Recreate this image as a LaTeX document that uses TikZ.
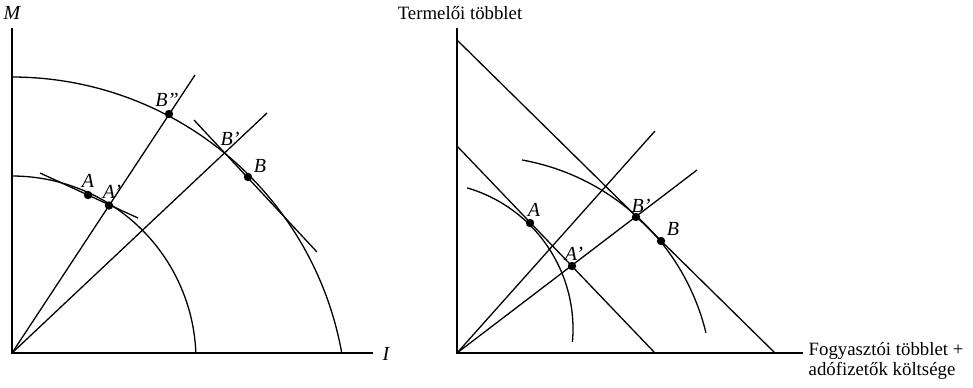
\documentclass[tikz,border=0pt]{standalone}
\usepackage{fontspec}
\setmainfont{Liberation Serif}
\begin{document}
\begin{tikzpicture}[x=0.5pt,y=-0.5pt,
  every path/.style={line width=0.65pt},
  dot/.style={circle,fill=black,inner sep=0pt,minimum size=4.2pt},
  lbl/.style={font=\fontsize{10}{10}\selectfont\itshape,inner sep=0pt},
  txt/.style={font=\fontsize{9.4}{9.4}\selectfont,inner sep=0pt}]
\useasboundingbox (0,0) rectangle (973,387);
% ---------------- left panel ----------------
\coordinate (O1) at (12,353);
\coordinate (Mtop) at (12,28);
\coordinate (Iend) at (373,353);
\draw (Mtop) -- (O1) -- (Iend);
\node[lbl] (Mlab) at (12,13) {M};
\node[lbl] (Ilab) at (386,354) {I};
% arcs
\draw plot[domain=90:1.9,samples=90,smooth] ({12+184*cos(\x)},{360-184*sin(\x)});
\draw plot[domain=90:10.14,samples=90,smooth] ({12+335*cos(\x)},{412-335*sin(\x)});
% rays
\coordinate (R1) at (195,75);
\coordinate (R2) at (267,113);
\draw (O1) -- (R1);
\draw (O1) -- (R2);
% tangents
\coordinate (TA1) at (40,173);
\coordinate (TA2) at (138,218);
\draw (TA1) -- (TA2);
\coordinate (TB1) at (194,120);
\coordinate (TB2) at (317,252);
\draw (TB1) -- (TB2);
% points
\node[dot] (lA) at (88,195) {};
\node[dot] (lAp) at (109,205.5) {};
\node[dot] (lBpp) at (169,114) {};
\node[dot] (lB) at (248,177) {};
\node[lbl] (lAlab) at (88,181) {A};
\node[lbl] (lAplab) at (112,192) {A’};
\node[lbl] (lBpplab) at (167,100) {B”};
\node[lbl] (lBplab) at (230,139) {B’};
\node[lbl] (lBlab) at (260,166) {B};
% ---------------- right panel ----------------
\coordinate (O2) at (457,353);
\coordinate (Ttop) at (457,28);
\coordinate (Fend) at (803,353);
\draw (Ttop) -- (O2) -- (Fend);
\node[txt] (Tlab) at (460,13) {Termelői többlet};
\node[txt,anchor=base west] (F1) at (808,355.5) {Fogyasztói többlet +};
\node[txt,anchor=base west] (F2) at (808,375) {adófizetők költsége};
% budget lines
\coordinate (L1a) at (457,40);
\coordinate (L1b) at (775,353);
\draw (L1a) -- (L1b);
\coordinate (L2a) at (457,146);
\coordinate (L2b) at (655,353);
\draw (L2a) -- (L2b);
% rays
\coordinate (S1) at (655,131);
\coordinate (S2) at (697,170);
\draw (O2) -- (S1);
\draw (O2) -- (S2);
% curves
\draw plot[domain=73.7:-5,samples=80,smooth] ({426+147*cos(\x)},{329-147*sin(\x)});
\draw plot[domain=79.9:13.7,samples=80,smooth] ({481.5+231*cos(\x)},{387.4-231*sin(\x)});
% points
\node[dot] (rA) at (530,223) {};
\node[dot] (rAp) at (572,266) {};
\node[dot] (rBp) at (636,217) {};
\node[dot] (rB) at (661,241) {};
\node[lbl] (rAlab) at (534,210) {A};
\node[lbl] (rAplab) at (574,254) {A’};
\node[lbl] (rBplab) at (641,206) {B’};
\node[lbl] (rBlab) at (673,229) {B};
\end{tikzpicture}
\end{document}
